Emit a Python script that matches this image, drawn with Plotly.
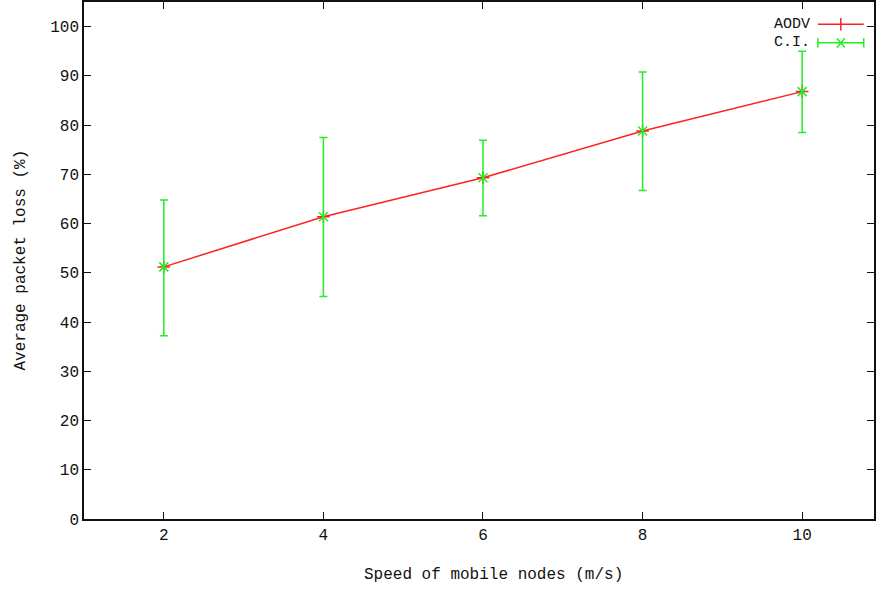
import plotly.graph_objects as go

speeds = [2, 4, 6, 8, 10]
aodv_loss = [51.2, 61.4, 69.3, 78.8, 86.8]
ci_upper = [64.8, 77.5, 76.9, 90.8, 95.0]
ci_lower = [37.2, 45.2, 61.6, 66.7, 78.5]
x_ticks = [2, 4, 6, 8, 10]
y_ticks = [0, 10, 20, 30, 40, 50, 60, 70, 80, 90, 100]

FONT = "Liberation Mono"
RED = "#ff2020"
GREEN = "#22ee22"

err_plus = [u - v for u, v in zip(ci_upper, aodv_loss)]
err_minus = [v - l for v, l in zip(aodv_loss, ci_lower)]

fig = go.Figure()
fig.add_trace(go.Scatter(
    x=speeds, y=aodv_loss, mode="lines+markers", name="AODV",
    line=dict(color=RED, width=1.5),
    marker=dict(symbol="cross-thin", size=9, line=dict(color=RED, width=1.5)),
    showlegend=False,
))
fig.add_trace(go.Scatter(
    x=speeds, y=aodv_loss, mode="markers", name="C.I.",
    marker=dict(symbol="x-thin", size=9, color=GREEN, line=dict(color=GREEN, width=1.5)),
    error_y=dict(type="data", symmetric=False, array=err_plus, arrayminus=err_minus,
                 color=GREEN, thickness=1.5, width=4),
    showlegend=False,
))

# custom gnuplot-style legend (text left, sample right)
leg_items = [("AODV", RED, 0.957), ("C.I.", GREEN, 0.921)]
for name, col, yy in leg_items:
    fig.add_annotation(x=0.921, y=yy, xref="paper", yref="paper", text=name,
                       showarrow=False, xanchor="right", yanchor="middle",
                       font=dict(family=FONT, size=15, color="#111111"))
    fig.add_shape(type="line", xref="paper", yref="paper",
                  x0=0.929, x1=0.987, y0=yy, y1=yy, line=dict(color=col, width=1.5))
# legend sample markers
fig.add_shape(type="line", xref="paper", yref="paper", x0=0.958, x1=0.958,
              y0=0.957 - 0.012, y1=0.957 + 0.012, line=dict(color=RED, width=1.5))
for xx in (0.929, 0.987):
    fig.add_shape(type="line", xref="paper", yref="paper", x0=xx, x1=xx,
                  y0=0.921 - 0.009, y1=0.921 + 0.009, line=dict(color=GREEN, width=1.5))
fig.add_shape(type="line", xref="paper", yref="paper", x0=0.953, x1=0.963,
              y0=0.921 - 0.009, y1=0.921 + 0.009, line=dict(color=GREEN, width=1.5))
fig.add_shape(type="line", xref="paper", yref="paper", x0=0.953, x1=0.963,
              y0=0.921 + 0.009, y1=0.921 - 0.009, line=dict(color=GREEN, width=1.5))

fig.add_annotation(x=0.518, y=-0.108, xref="paper", yref="paper",
                   text="Speed of mobile nodes (m/s)", showarrow=False,
                   xanchor="center", yanchor="middle",
                   font=dict(family=FONT, size=16, color="#111111"))
fig.add_annotation(x=-0.081, y=0.5, xref="paper", yref="paper",
                   text="Average packet loss (%)", showarrow=False, textangle=-90,
                   xanchor="center", yanchor="middle",
                   font=dict(family=FONT, size=16, color="#111111"))

axis_common = dict(
    showline=True, linecolor="#111111", linewidth=1.5, mirror="ticks",
    ticks="inside", ticklen=7, tickwidth=1.2, tickcolor="#111111",
    showgrid=False, zeroline=False,
    tickfont=dict(family=FONT, size=16, color="#111111"),
)
fig.update_xaxes(range=[1, 10.9], tickvals=x_ticks, ticktext=[str(t) for t in x_ticks], **axis_common)
fig.update_yaxes(range=[0, 105], tickvals=y_ticks, ticktext=[str(t) for t in y_ticks], **axis_common)

fig.update_layout(
    width=876, height=589,
    margin=dict(l=84, r=0, t=1, b=70, pad=0),
    paper_bgcolor="white", plot_bgcolor="white",
    showlegend=False,
)
fig.write_html("out.html",
               config={"displayModeBar": False},
               post_script="document.body.style.margin='0';document.body.style.overflow='hidden';")
